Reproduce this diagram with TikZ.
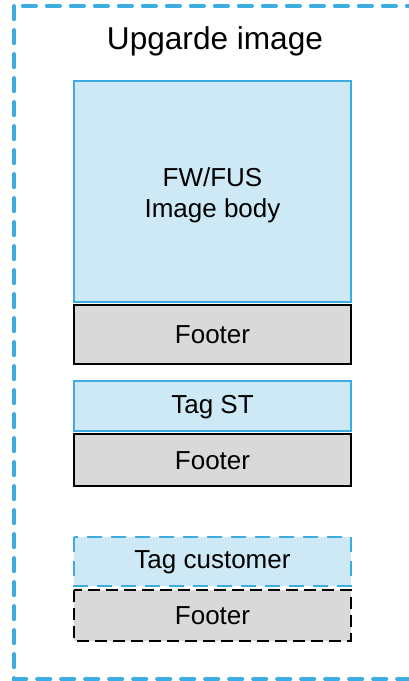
\documentclass[tikz,border=0pt]{standalone}
\usepackage{fontspec}
\setmainfont{Liberation Sans}
\definecolor{bborder}{RGB}{61,172,224}
\definecolor{bfill}{RGB}{206,233,246}
\definecolor{gfill}{RGB}{217,217,217}
\begin{document}
\begin{tikzpicture}[x=0.75pt,y=-0.75pt,
  bluebox/.style={draw=bborder,fill=bfill,line width=1.9pt},
  graybox/.style={draw=black,fill=gfill,line width=1.9pt},
  lbl/.style={font=\fontsize{19.5}{23}\selectfont,align=center},
  dashblue/.style={dash pattern=on 11.25pt off 6.75pt}]
\useasboundingbox (0,0) rectangle (408,681);
\draw[draw=bborder,line width=2.8pt,dash pattern=on 10pt off 8pt,line cap=round] (14,6) rectangle (420,679);
\node[font=\fontsize{23.7}{28}\selectfont] (title) at (215,41) {Upgarde image};
\draw[bluebox] (74,81) rectangle (351,302);
\node[lbl] (body) at (212.5,195) {FW/FUS\\Image body};
\draw[graybox] (74,305) rectangle (351,364);
\node[lbl] (f1) at (212.5,335) {Footer};
\draw[bluebox] (74,381) rectangle (351,431);
\node[lbl] (tagst) at (212.5,407) {Tag ST};
\draw[graybox] (74,434) rectangle (351,486);
\node[lbl] (f2) at (212.5,461) {Footer};
\draw[bluebox,dashblue] (74,537) rectangle (351,586);
\node[lbl] (tagc) at (212.5,562) {Tag customer};
\draw[graybox,dash pattern=on 9pt off 4.5pt] (74,590) rectangle (351,641);
\node[lbl] (f3) at (212.5,616) {Footer};
\end{tikzpicture}
\end{document}
